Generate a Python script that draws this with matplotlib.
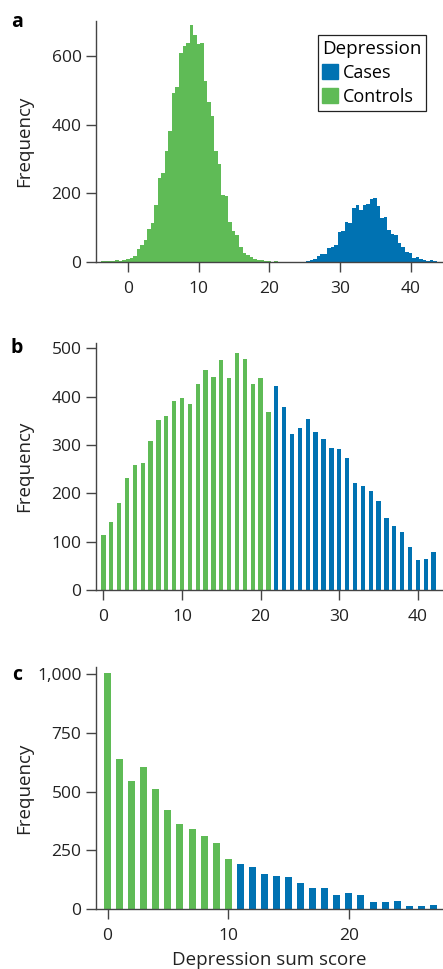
import numpy as np
import matplotlib
matplotlib.use("Agg")
import matplotlib.pyplot as plt
from matplotlib.patches import Patch
from matplotlib.ticker import FuncFormatter

plt.rcParams['font.family'] = ['Open Sans', 'DejaVu Sans']

GREEN = '#5fbb56'
BLUE = '#0072b2'
SPINE = '#444444'

# panel a: histogram counts, bin width 0.5
a_bin_width = 0.5
a_controls_start = -4.28
a_controls = [1, 3, 2, 3, 2, 6, 4, 7, 9, 12, 17, 37, 49, 63, 95, 113, 165, 244,
              259, 323, 381, 491, 509, 608, 628, 637, 689, 660, 634, 637, 526,
              465, 424, 323, 285, 195, 192, 116, 90, 78, 44, 26, 20, 15, 10, 7,
              5, 4, 2, 1, 2, 1, 1]
a_cases_start = 24.72
a_cases = [1, 2, 6, 9, 17, 23, 24, 41, 44, 49, 87, 90, 116, 114, 157, 166, 151,
           166, 169, 183, 186, 163, 128, 131, 93, 81, 78, 55, 44, 29, 26, 12,
           15, 9, 5, 3, 6, 3, 1]

# panel b: counts per score 0..42, cases from 22
b_scores = list(range(43))
b_counts = [115, 140, 181, 231, 258, 262, 309, 351, 359, 390, 397, 384, 425,
            454, 441, 475, 439, 489, 477, 425, 439, 369, 421, 379, 322, 336,
            353, 326, 313, 293, 291, 274, 222, 216, 204, 185, 150, 132, 121,
            90, 63, 65, 80]
b_cutoff = 22

# panel c: counts per score 0..27, cases from 11
c_scores = list(range(28))
c_counts = [1006, 639, 545, 605, 511, 422, 362, 341, 311, 281, 213, 192, 179,
            149, 141, 136, 111, 89, 89, 60, 68, 60, 30, 30, 34, 13, 13, 17]
c_cutoff = 11


def style_axis(ax):
    for side in ['top', 'right']:
        ax.spines[side].set_visible(False)
    for side in ['left', 'bottom']:
        ax.spines[side].set_color(SPINE)
        ax.spines[side].set_linewidth(1.0)
    ax.tick_params(axis='both', length=7.5, width=1.0, color=SPINE,
                   labelsize=12.5, labelcolor='#222222')
    ax.tick_params(axis='y', pad=2.5)
    ax.tick_params(axis='x', pad=6)
    ax.set_ylabel('Frequency', fontsize=13.5, color='#222222')
    ax.yaxis.set_label_coords(-0.18, 0.5)


def bars_split(ax, scores, counts, cutoff, width):
    scores = np.array(scores)
    counts = np.array(counts)
    ctrl = scores < cutoff
    ax.bar(scores[ctrl], counts[ctrl], width=width, color=GREEN, linewidth=0)
    ax.bar(scores[~ctrl], counts[~ctrl], width=width, color=BLUE, linewidth=0)


fig = plt.figure(figsize=(4.43, 9.69), dpi=100)
left = 95.5 / 443
width = 1 - left

# a
ax_a = fig.add_axes([left, 1 - 262 / 969, width, 241.3 / 969])
edges_ctrl = a_controls_start + a_bin_width * np.arange(len(a_controls) + 1)
edges_case = a_cases_start + a_bin_width * np.arange(len(a_cases) + 1)
ax_a.stairs(a_controls, edges_ctrl, fill=True, color=GREEN, linewidth=0)
ax_a.stairs(a_cases, edges_case, fill=True, color=BLUE, linewidth=0)
ax_a.set_xlim(-4.6, 44.6)
ax_a.set_ylim(0, 702)
ax_a.set_xticks([0, 10, 20, 30, 40])
ax_a.set_yticks([0, 200, 400, 600])
style_axis(ax_a)
handles = [Patch(color=BLUE, label='Cases'), Patch(color=GREEN, label='Controls')]
leg = ax_a.legend(handles=handles, title='Depression', loc='upper right',
                  bbox_to_anchor=(426 / 443, 1 - 35 / 969),
                  bbox_transform=fig.transFigure, borderaxespad=0,
                  fontsize=13, title_fontsize=13.5, alignment='left',
                  handlelength=0.9, handleheight=0.9, handletextpad=0.25,
                  labelspacing=0.35, borderpad=0.25, fancybox=False,
                  framealpha=1, edgecolor='#222222')
leg.get_frame().set_linewidth(0.9)

# b
ax_b = fig.add_axes([left, 1 - 590.3 / 969, width, 247 / 969])
bars_split(ax_b, b_scores, b_counts, b_cutoff, 0.55)
ax_b.set_xlim(-1, 43.2)
ax_b.set_ylim(0, 510)
ax_b.set_xticks([0, 10, 20, 30, 40])
ax_b.set_yticks([0, 100, 200, 300, 400, 500])
style_axis(ax_b)

# c
ax_c = fig.add_axes([left, 1 - 909 / 969, width, 241.7 / 969])
bars_split(ax_c, c_scores, c_counts, c_cutoff, 0.58)
ax_c.set_xlim(-1, 27.8)
ax_c.set_ylim(0, 1030)
ax_c.set_xticks([0, 10, 20])
ax_c.set_yticks([0, 250, 500, 750, 1000])
ax_c.yaxis.set_major_formatter(FuncFormatter(lambda v, p: f'{int(v):,}'))
style_axis(ax_c)
ax_c.set_xlabel('Depression sum score', fontsize=13.5, color='#222222', labelpad=5)

for letter, ypix in [('a', 22), ('b', 348), ('c', 675)]:
    fig.text(17 / 443, 1 - ypix / 969, letter, fontsize=14, fontweight='bold',
             ha='center', va='center')

fig.savefig('out.png', dpi=100)
